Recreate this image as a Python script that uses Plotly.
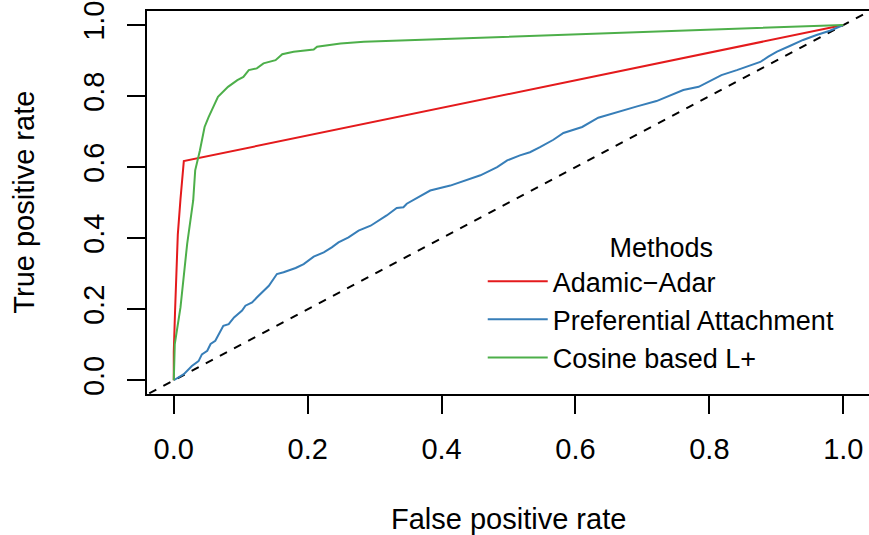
import plotly.graph_objects as go

# ROC curve data
aa_fpr = [0.0, 0.0, 0.002, 0.004, 0.006, 0.010, 0.015, 1.0]
aa_tpr = [0.0, 0.08, 0.20, 0.30, 0.41, 0.51, 0.617, 1.0]

pa_fpr = [0.0, 0.015, 0.027, 0.037, 0.042, 0.050, 0.055, 0.062, 0.074, 0.082, 0.090,
          0.102, 0.107, 0.117, 0.124, 0.142, 0.154, 0.164, 0.182, 0.194, 0.209, 0.224,
          0.236, 0.246, 0.261, 0.276, 0.294, 0.309, 0.318, 0.333, 0.343, 0.348, 0.383,
          0.413, 0.433, 0.458, 0.483, 0.498, 0.517, 0.532, 0.547, 0.567, 0.582, 0.610,
          0.634, 0.662, 0.692, 0.721, 0.741, 0.761, 0.784, 0.801, 0.818, 0.841, 0.861,
          0.876, 0.888, 0.901, 0.920, 0.940, 0.960, 0.980, 1.0]
pa_tpr = [0.0, 0.017, 0.040, 0.054, 0.073, 0.083, 0.102, 0.111, 0.153, 0.158, 0.177,
          0.196, 0.210, 0.219, 0.233, 0.266, 0.299, 0.304, 0.316, 0.327, 0.348, 0.360,
          0.374, 0.388, 0.402, 0.421, 0.435, 0.452, 0.464, 0.485, 0.487, 0.497, 0.534,
          0.548, 0.561, 0.577, 0.600, 0.619, 0.633, 0.642, 0.656, 0.677, 0.696, 0.713,
          0.739, 0.755, 0.771, 0.786, 0.802, 0.817, 0.826, 0.843, 0.859, 0.873, 0.887,
          0.896, 0.911, 0.925, 0.941, 0.958, 0.972, 0.984, 1.0]

cl_fpr = [0.0, 0.0015, 0.010, 0.020, 0.029, 0.032, 0.039, 0.046, 0.052, 0.066, 0.081,
          0.095, 0.104, 0.112, 0.124, 0.134, 0.152, 0.162, 0.179, 0.209, 0.214, 0.249,
          0.284, 1.0]
cl_tpr = [0.0, 0.102, 0.205, 0.384, 0.506, 0.591, 0.647, 0.713, 0.741, 0.798, 0.826,
          0.845, 0.854, 0.873, 0.878, 0.892, 0.901, 0.918, 0.925, 0.931, 0.939, 0.948,
          0.953, 1.0]

diag = [-0.1, 1.1]

x_ticks = [0.0, 0.2, 0.4, 0.6, 0.8, 1.0]
x_tick_labels = ["0.0", "0.2", "0.4", "0.6", "0.8", "1.0"]
y_ticks = [0.0, 0.2, 0.4, 0.6, 0.8, 1.0]
y_tick_labels = ["0.0", "0.2", "0.4", "0.6", "0.8", "1.0"]

names = ["Adamic\u2212Adar", "Preferential Attachment", "Cosine based L+"]
colors = ["#E41A1C", "#377EB8", "#4DAF4A"]

FONT = "Liberation Sans, Arial, Helvetica, sans-serif"
FS = 29
LFS = 27

fig = go.Figure()
fig.add_trace(go.Scatter(x=diag, y=diag, mode="lines", showlegend=False,
                         line=dict(color="black", width=2, dash="8px,8px")))
for fx, ty, nm, col in [(aa_fpr, aa_tpr, names[0], colors[0]),
                        (pa_fpr, pa_tpr, names[1], colors[1]),
                        (cl_fpr, cl_tpr, names[2], colors[2])]:
    fig.add_trace(go.Scatter(x=fx, y=ty, mode="lines", name=nm,
                             line=dict(color=col, width=2)))

fig.update_layout(
    width=869, height=535,
    margin=dict(l=147, r=0, t=11, b=141, autoexpand=False),
    paper_bgcolor="white", plot_bgcolor="white",
    font=dict(family=FONT, size=FS, color="black"),
    showlegend=True,
    legend=dict(
        x=0.465, y=0.449, xanchor="left", yanchor="top",
        bgcolor="rgba(0,0,0,0)", borderwidth=0,
        font=dict(family=FONT, size=LFS, color="black"),
        title=dict(text="Methods", side="top center",
                   font=dict(family=FONT, size=LFS, color="black")),
        tracegroupgap=0, itemwidth=60,
    ),
    xaxis=dict(
        range=[-0.04, 1.0384], showgrid=False, zeroline=False, automargin=False,
        showline=True, linecolor="black", linewidth=2, mirror=True,
        ticks="outside", ticklen=18, tickwidth=2, tickcolor="black",
        tickvals=x_ticks, ticktext=x_tick_labels,
        tickfont=dict(family=FONT, size=FS, color="black"),
        ticklabelstandoff=10,
    ),
    yaxis=dict(
        range=[-0.0387, 1.0395], showgrid=False, zeroline=False, automargin=False,
        showline=True, linecolor="black", linewidth=2, mirror=False,
        ticks="outside", ticklen=18, tickwidth=2, tickcolor="black",
        tickvals=y_ticks, ticktext=y_tick_labels, tickangle=-90,
        tickfont=dict(family=FONT, size=FS, color="black"),
        ticklabelstandoff=11,
    ),
    annotations=[
        dict(text="False positive rate", xref="x", yref="paper", x=0.5, y=0,
             xanchor="center", yanchor="middle", yshift=-125, showarrow=False,
             font=dict(family=FONT, size=FS, color="black")),
        dict(text="True positive rate", xref="paper", yref="y", x=0, y=0.5,
             xanchor="center", yanchor="middle", xshift=-123, textangle=-90,
             showarrow=False, font=dict(family=FONT, size=FS, color="black")),
    ],
)

fig.write_html(
    "out.html",
    config={"displayModeBar": False},
    post_script="document.body.style.margin='0';document.body.style.overflow='hidden';",
)
